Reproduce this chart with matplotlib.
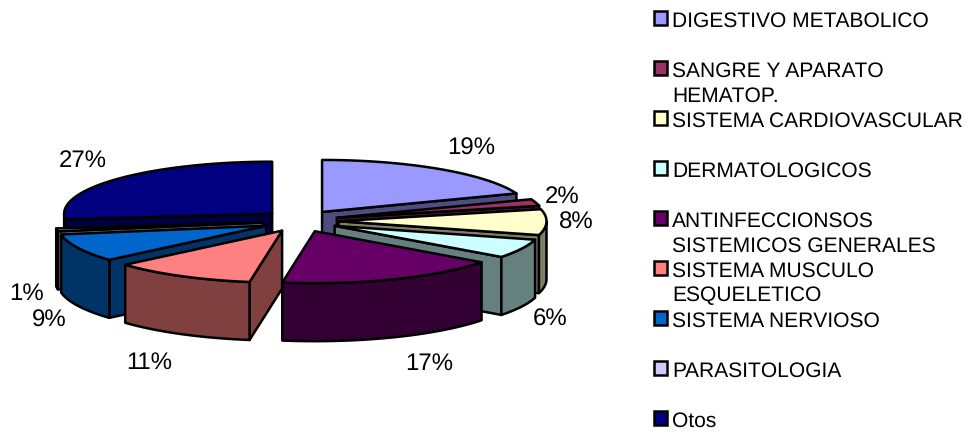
import numpy as np
import matplotlib
matplotlib.use('Agg')
import matplotlib.pyplot as plt
from matplotlib.patches import Polygon, Rectangle

plt.rcParams['font.family'] = ['Liberation Sans', 'DejaVu Sans']
plt.rcParams['text.hinting'] = 'no_hinting'
plt.rcParams['text.hinting_factor'] = 1

names = ['DIGESTIVO METABOLICO', 'SANGRE Y APARATO\nHEMATOP.', 'SISTEMA CARDIOVASCULAR',
         'DERMATOLOGICOS', 'ANTINFECCIONSOS\nSISTEMICOS GENERALES', 'SISTEMA MUSCULO\nESQUELETICO',
         'SISTEMA NERVIOSO', 'PARASITOLOGIA', 'Otos']
# labels are rounded, the slices show a bit more than that
values = [19.2, 2.1, 8.0, 5.9, 17.3, 11.1, 8.7, 0.9, 26.8]
colors = ['#9999FF', '#993366', '#FFFFCC', '#CCFFFF', '#660066', '#FF8080', '#0066CC', '#CCCCFF', '#000080']
label_x = [471, 562, 576, 550, 429, 149, 49, 27, 83]
label_y = [146, 194, 220, 317, 361, 360, 318, 291, 158]

# pie layout in pixels
cx, cy = 300.5, 222
rx, ry = 208, 52
ex, ey = 38, 11
depth = 58
lw = 1.8


def darker(c):
    return tuple(v * 0.5 for v in matplotlib.colors.to_rgb(c))


def arc(ax0, ay0, t0, t1):
    t = np.radians(np.linspace(t0, t1, 80))
    return np.column_stack([ax0 + rx * np.sin(t), ay0 - ry * np.cos(t)])


def draw_slice(ax, val_start, val_end, color):
    # angles run clockwise from the top
    t0 = val_start * 3.6
    t1 = val_end * 3.6
    mid = np.radians((t0 + t1) / 2)
    ax0 = cx + ex * np.sin(mid)
    ay0 = cy - ey * np.cos(mid)
    side = darker(color)
    down = np.array([0, depth])
    apex = np.array([ax0, ay0])

    # cut faces that look at the viewer
    for t, normal in [(t0, t0 - 90), (t1, t1 + 90)]:
        if np.cos(np.radians(normal)) < 0:
            p = arc(ax0, ay0, t, t)[0]
            ax.add_patch(Polygon([apex, p, p + down, apex + down], closed=True,
                                 fc=side, ec='black', lw=lw, joinstyle='round'))

    # outer wall, front half only
    w0, w1 = max(t0, 90), min(t1, 270)
    if w1 > w0:
        top = arc(ax0, ay0, w0, w1)
        ax.add_patch(Polygon(np.vstack([top, (top + down)[::-1]]), closed=True,
                             fc=side, ec='black', lw=lw, joinstyle='round'))

    pts = np.vstack([apex, arc(ax0, ay0, t0, t1)])
    ax.add_patch(Polygon(pts, closed=True, fc=color, ec='black', lw=lw, joinstyle='round'))


def main():
    fig = plt.figure(figsize=(9.77, 4.35), dpi=100)
    ax = fig.add_axes([0, 0, 1, 1])
    ax.set_xlim(0, 977)
    ax.set_ylim(435, 0)
    ax.axis('off')

    edges = np.concatenate([[0], np.cumsum(values)]) * 100 / sum(values)
    mids = (edges[:-1] + edges[1:]) / 2
    # back slices first
    order = np.argsort(-np.cos(np.radians(mids * 3.6)))
    for i in order:
        draw_slice(ax, edges[i], edges[i + 1], colors[i])

    for v, x, y in zip(values, label_x, label_y):
        ax.text(x, y + 3, f'{round(v)}%', fontsize=17, ha='center', va='center', color='black')

    # legend, one row every 50 px
    for i, (name, c) in enumerate(zip(names, colors)):
        y = 19 + 50 * i
        ax.add_patch(Rectangle((653.5, y - 7), 13, 14, fc=c, ec='black', lw=1.8))
        for j, line in enumerate(name.split('\n')):
            ax.text(672, y + 25 * j + 7.5, line, fontsize=15.4, ha='left', va='baseline', color='black')

    fig.savefig('out.png', dpi=100)


if __name__ == '__main__':
    main()
